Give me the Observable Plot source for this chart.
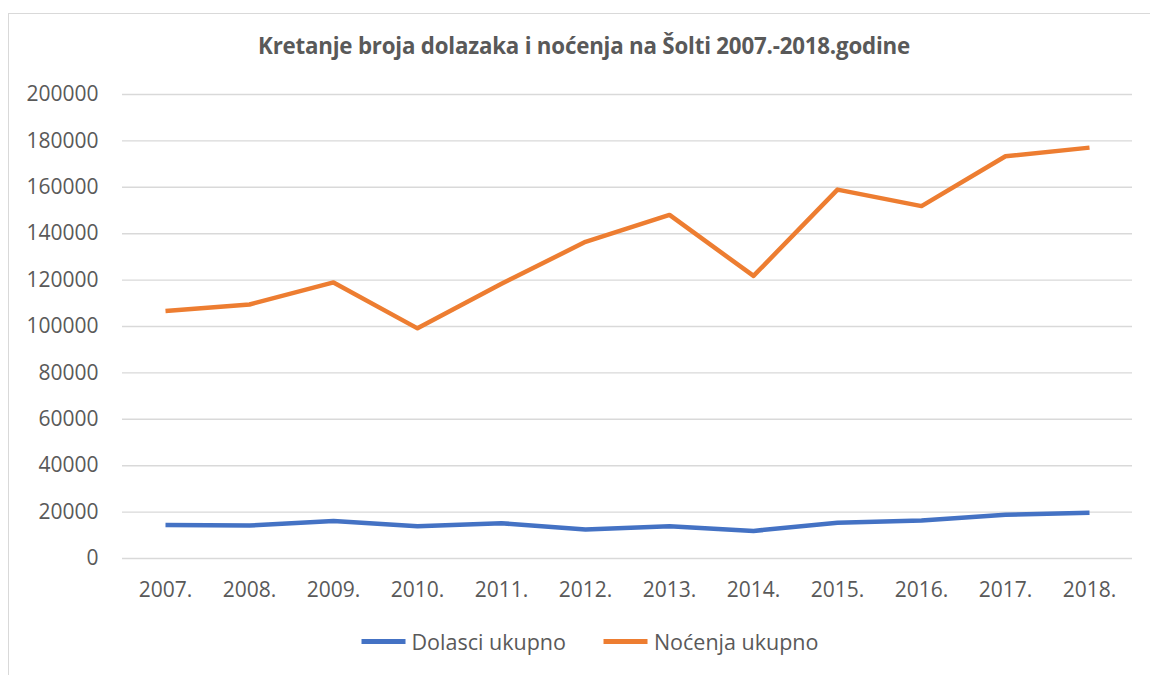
<!DOCTYPE html>
<html>
<head>
<meta charset="utf-8">
<script src="https://cdn.jsdelivr.net/npm/d3@7"></script>
<script src="https://cdn.jsdelivr.net/npm/@observablehq/plot@0.6"></script>
<style>
  html, body { margin: 0; padding: 0; background: #fff; width: 1150px; height: 675px; overflow: hidden; }
  body { position: relative; font-family: "Open Sans", sans-serif; color: #595959; }
  #frame { position: absolute; left: 8px; top: 13px; width: 1160px; height: 700px; border: 1px solid #d9d9d9; box-sizing: border-box; }
  #title { position: absolute; left: 584px; top: 31px; transform: translateX(-50%); white-space: nowrap; font-size: 22.3px; font-weight: 700; color: #595959; line-height: 30px; letter-spacing: -0.2px; }
  #chart { position: absolute; left: 0; top: 70px; }
  #legend { position: absolute; left: 590px; top: 627px; transform: translateX(-50%); display: flex; align-items: center; white-space: nowrap; font-size: 21.5px; color: #595959; }
  .item { display: flex; align-items: center; margin: 0 19px; }
  .sw { width: 44px; height: 5px; margin-right: 6px; }
</style>
</head>
<body>
<div id="frame"></div>
<div id="title">Kretanje broja dolazaka i noćenja na Šolti 2007.-2018.godine</div>
<div id="chart"></div>
<div id="legend"></div>
<script>
const years = ["2007.","2008.","2009.","2010.","2011.","2012.","2013.","2014.","2015.","2016.","2017.","2018."];
const dolasci = [14400,14200,16200,13900,15200,12500,13900,11900,15400,16400,18900,19700];
const nocenja = [106700,109500,119000,99200,118400,136500,148100,121800,159000,151900,173400,177100];
const yTicks = [0,20000,40000,60000,80000,100000,120000,140000,160000,180000,200000];
const seriesNames = ["Dolasci ukupno","Noćenja ukupno"];
const seriesColors = ["#4472C4","#ED7D31"];

const rows = [];
years.forEach((y, i) => {
  rows.push({year: y, value: dolasci[i], series: seriesNames[0]});
  rows.push({year: y, value: nocenja[i], series: seriesNames[1]});
});

const chart = Plot.plot({
  width: 1150,
  height: 540,
  marginLeft: 122,
  marginRight: 18,
  marginTop: 24,
  marginBottom: 52,
  style: {fontFamily: "'Open Sans', sans-serif", fontSize: "21px", color: "#595959", background: "transparent", overflow: "visible"},
  x: {type: "point", domain: years, padding: 0.5, label: null},
  y: {domain: [0, 200000], label: null},
  color: {domain: seriesNames, range: seriesColors},
  marks: [
    Plot.gridY(yTicks, {stroke: "#d9d9d9", strokeOpacity: 1, strokeWidth: 1.4}),
    Plot.axisY({ticks: yTicks, tickSize: 0, tickPadding: 24, tickFormat: d => String(d), fill: "#595959", fontSize: 21}),
    Plot.axisX({tickSize: 0, tickPadding: 24, fill: "#595959", fontSize: 21}),
    Plot.line(rows, {x: "year", y: "value", z: "series", stroke: "series", strokeWidth: 4.5, strokeLinejoin: "round", strokeLinecap: "butt"})
  ]
});
document.getElementById("chart").appendChild(chart);

const legend = document.getElementById("legend");
seriesNames.forEach((n, i) => {
  const it = document.createElement("div");
  it.className = "item";
  const sw = document.createElement("div");
  sw.className = "sw";
  sw.style.background = seriesColors[i];
  const t = document.createElement("span");
  t.textContent = n;
  it.appendChild(sw); it.appendChild(t);
  legend.appendChild(it);
});
</script>
</body>
</html>
